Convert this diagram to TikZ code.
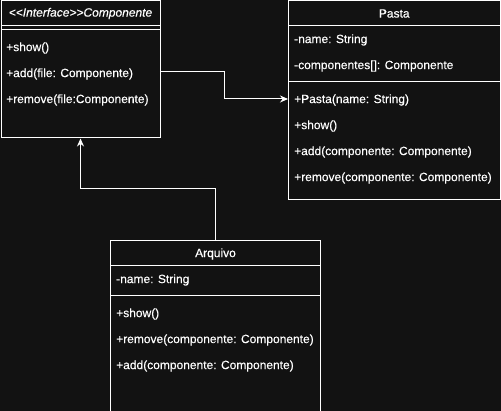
\documentclass[tikz,border=0pt]{standalone}
\usepackage{fontspec}
\setmainfont[FakeBold=0.35]{Liberation Sans}
\usetikzlibrary{arrows.meta}
\definecolor{bg}{RGB}{18,18,18}
\begin{document}
\begin{tikzpicture}[x=1pt,y=-1pt,
  umlbox/.style={draw=white,line width=1pt,inner sep=0pt,fill=bg},
  txt/.style={text=white,font=\fontsize{12}{14}\selectfont,inner sep=0pt,anchor=west},
  ttl/.style={text=white,font=\fontsize{12}{14}\selectfont,inner sep=0pt,anchor=center},
  sep/.style={draw=white,line width=1pt},
  conn/.style={draw=white,line width=1pt,-{Stealth[length=8pt,width=7pt]}}]
\useasboundingbox (0,0) rectangle (501,411);
\fill[bg] (0,0) rectangle (501,411);
\clip (0,0) rectangle (501,411);
% Componente
\node[umlbox,minimum width=159pt,minimum height=137pt] (comp) at (80.5,69.5) {};
\draw[sep] (1,26) -- (160,26);
\draw[sep] (1,30) -- (160,30);
\node[ttl] (compt) at (80.5,13.5) {\itshape {<}{<}Interface{>}{>}Componente};
\node[txt] (c1) at (6,48) {+show()};
\node[txt] (c2) at (6,74) {+add(file: Componente)};
\node[txt] (c3) at (6,100) {+remove(file:Componente)};
% Pasta
\node[umlbox,minimum width=211.5pt,minimum height=199pt] (pasta) at (394.25,100.5) {};
\draw[sep] (288.5,26) -- (500,26);
\draw[sep] (288.5,82) -- (500,82);
\node[ttl] (pt) at (394.25,13.5) {Pasta};
\node[txt] (p1) at (294,40) {-name: String};
\node[txt] (p2) at (294,66) {-componentes[]: Componente};
\node[txt] (p3) at (294,100) {+Pasta(name: String)};
\node[txt] (p4) at (294,126) {+show()};
\node[txt] (p5) at (294,152) {+add(componente: Componente)};
\node[txt] (p6) at (294,178) {+remove(componente: Componente)};
% Arquivo
\node[umlbox,minimum width=209.5pt,minimum height=190pt] (arq) at (215.5,335.5) {};
\draw[sep] (110.75,266) -- (320.25,266);
\draw[sep] (110.75,296) -- (320.25,296);
\node[ttl] (at) at (215.5,254) {Arquivo};
\node[txt] (a1) at (116,280) {-name: String};
\node[txt] (a2) at (116,314) {+show()};
\node[txt] (a3) at (116,340) {+remove(componente: Componente)};
\node[txt] (a4) at (116,366) {+add(componente: Componente)};
% connectors
\coordinate (k1) at (224,72);
\coordinate (k2) at (224,99);
\draw[conn] (comp.east |- k1) -- (k1) -- (k2) -- (pasta.west |- k2);
\coordinate (m1) at (215.5,189);
\coordinate (m2) at (80.5,189);
\draw[conn] (arq.north) -- (m1) -- (m2) -- (comp.south);
\end{tikzpicture}
\end{document}
